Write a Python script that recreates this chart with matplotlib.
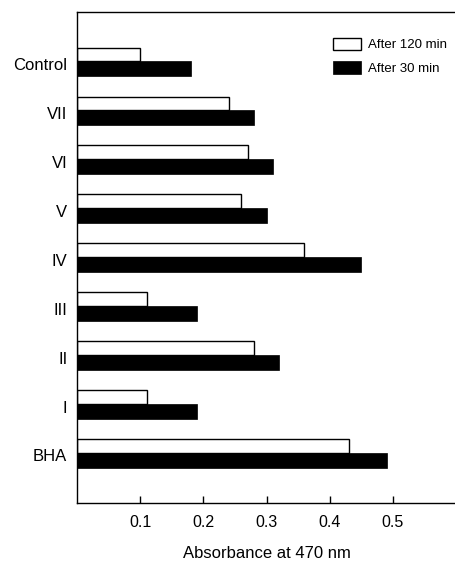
import matplotlib.pyplot as plt
import numpy as np

plt.rcParams['font.family'] = ['Liberation Sans', 'DejaVu Sans']

compounds = ["BHA", "I", "II", "III", "IV", "V", "VI", "VII", "Control"]
after_120 = [0.43, 0.11, 0.28, 0.11, 0.36, 0.26, 0.27, 0.24, 0.10]
after_30 = [0.49, 0.19, 0.32, 0.19, 0.45, 0.30, 0.31, 0.28, 0.18]

y = np.arange(len(compounds))

fig = plt.figure(figsize=(4.56, 5.62), dpi=100)
ax = fig.add_axes([0.169, 0.105, 0.831, 0.874])

ax.barh(y + 0.135, after_120, height=0.27, left=0, color="white",
        edgecolor="black", linewidth=1.0, label="After 120 min")
ax.barh(y - 0.155, after_30, height=0.31, left=0, color="black",
        edgecolor="black", linewidth=0.5, label="After 30 min")

ax.set_xlim(0, 0.6)
ax.set_ylim(-1.03, 9.0)
ax.set_xticks([0.1, 0.2, 0.3, 0.4, 0.5])
ax.set_xticklabels(["0.1", "0.2", "0.3", "0.4", "0.5"], fontsize=11.5)
ax.set_yticks(y - 0.06)
ax.set_yticklabels(compounds, fontsize=12)
ax.tick_params(axis="x", direction="in", length=5, width=1, pad=9)
ax.tick_params(axis="y", length=0, pad=7)
ax.spines["right"].set_visible(False)
for s in ["left", "bottom", "top"]:
    ax.spines[s].set_linewidth(1.0)

ax.set_xlabel("Absorbance at 470 nm", fontsize=12, labelpad=11.5)

ax.legend(loc="upper left", bbox_to_anchor=(0.675, 0.947), frameon=False,
          fontsize=9.5, handlelength=2.1, handleheight=1.05,
          handletextpad=0.6, labelspacing=0.75, borderpad=0,
          borderaxespad=0)

fig.savefig("out.png", dpi=100)
